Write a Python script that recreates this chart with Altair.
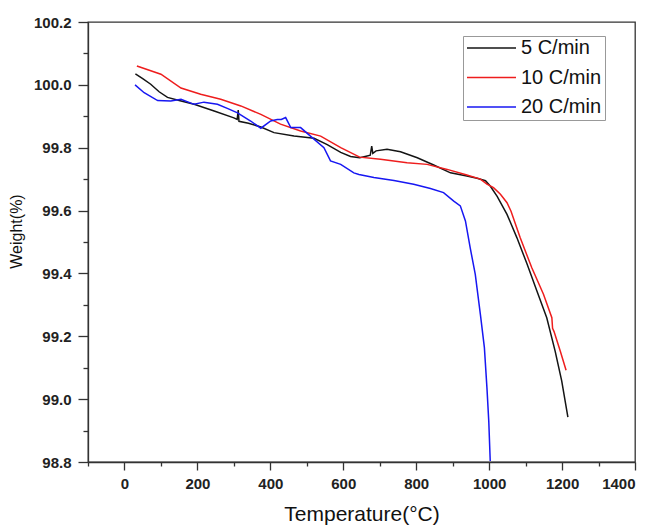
import altair as alt
import pandas as pd

series_names = ["5 C/min", "10 C/min", "20 C/min"]
series_colors = ["#141414", "#ee1d1d", "#1717f2"]

# 5 C/min
t_5 = [30, 50, 72, 95, 118, 150, 191, 246, 300, 309, 312, 314, 340, 374, 410, 465, 520, 556,
       593, 620, 645, 660, 674, 678, 681, 690, 720, 757, 803, 848, 894, 939, 967, 990, 1003,
       1022, 1049, 1076, 1104, 1131, 1158, 1181, 1199, 1216]
w_5 = [100.035, 100.02, 100.002, 99.978, 99.96, 99.95, 99.938, 99.917, 99.895, 99.89, 99.92,
       99.884, 99.878, 99.866, 99.848, 99.837, 99.83, 99.81, 99.785, 99.772, 99.768, 99.772,
       99.776, 99.805, 99.782, 99.79, 99.795, 99.787, 99.768, 99.745, 99.72, 99.71, 99.703,
       99.695, 99.678, 99.645, 99.588, 99.514, 99.43, 99.344, 99.259, 99.153, 99.058, 98.943]

# 10 C/min
t_10 = [34, 100, 155, 209, 264, 319, 374, 428, 483, 538, 593, 645, 702, 775, 830, 885, 939,
        976, 994, 1012, 1031, 1049, 1060, 1085, 1117, 1149, 1172, 1174, 1178, 1195, 1211]
w_10 = [100.06, 100.034, 99.99, 99.97, 99.954, 99.933, 99.906, 99.875, 99.853, 99.837, 99.80,
        99.77, 99.763, 99.752, 99.747, 99.731, 99.713, 99.70, 99.684, 99.673, 99.652, 99.625,
        99.598, 99.514, 99.418, 99.334, 99.259, 99.225, 99.215, 99.153, 99.092]

# 20 C/min
t_20 = [29, 54, 91, 127, 155, 191, 218, 255, 282, 310, 346, 374, 401, 419, 430, 442, 456, 483,
        510, 547, 565, 593, 629, 643, 684, 739, 793, 839, 875, 903, 921, 935, 948, 962, 976,
        987, 994, 999, 1003]
w_20 = [100.0, 99.975, 99.95, 99.949, 99.954, 99.938, 99.945, 99.938, 99.925, 99.911, 99.885,
        99.862, 99.885, 99.89, 99.89, 99.896, 99.864, 99.864, 99.837, 99.80, 99.758, 99.747,
        99.72, 99.715, 99.705, 99.696, 99.684, 99.67, 99.657, 99.63, 99.615, 99.567, 99.482,
        99.397, 99.27, 99.164, 99.036, 98.93, 98.803]

x_ticks = [-100, 0, 100, 200, 300, 400, 500, 600, 700, 800, 900, 1000, 1100, 1200, 1300, 1400]
y_ticks = [98.8, 98.9, 99.0, 99.1, 99.2, 99.3, 99.4, 99.5, 99.6, 99.7, 99.8, 99.9, 100.0, 100.1, 100.2]

rows = []
for name, ts, ws in zip(series_names, [t_5, t_10, t_20], [w_5, w_10, w_20]):
    for i, (t, w) in enumerate(zip(ts, ws)):
        rows.append({"series": name, "temp": t, "weight": w, "order": i})
df = pd.DataFrame(rows)

FONT = "Liberation Sans"
AXIS_COLOR = "#333333"

x_axis = alt.Axis(
    title="Temperature(°C)",
    values=x_ticks,
    labelExpr="datum.value % 200 === 0 ? format(datum.value, 'd') : ''",
    tickSize={"condition": {"test": "datum.value % 200 === 0", "value": 8}, "value": 4},
    labelPadding=6,
    titlePadding=12,
    titleFontSize=21,
    grid=False,
)
y_axis = alt.Axis(
    title="Weight(%)",
    values=y_ticks,
    labelExpr="round(datum.value * 10) % 2 === 0 ? format(datum.value, '.1f') : ''",
    tickSize={"condition": {"test": "round(datum.value * 10) % 2 === 0", "value": 10}, "value": 5},
    labelPadding=7,
    titlePadding=9,
    titleFontSize=16,
    titleY=209,
    grid=False,
)

chart = (
    alt.Chart(df)
    .mark_line(strokeWidth=1.5, clip=True)
    .encode(
        x=alt.X("temp:Q", scale=alt.Scale(domain=[-100, 1400], nice=False, zero=False), axis=x_axis),
        y=alt.Y("weight:Q", scale=alt.Scale(domain=[98.8, 100.2], nice=False, zero=False), axis=y_axis),
        color=alt.Color(
            "series:N",
            title=None,
            scale=alt.Scale(domain=series_names, range=series_colors),
            legend=alt.Legend(
                orient="none",
                legendX=375,
                legendY=14,
                symbolType="stroke",
                symbolSize=2401,
                symbolStrokeWidth=1.5,
                clipHeight=18,
                labelFont=FONT,
                labelFontSize=20,
                labelColor="#111111",
                labelOffset=4,
                rowPadding=9.5,
                padding=3,
                strokeColor="#999999",
                fillColor="white",
            ),
        ),
        order="order:Q",
    )
    .properties(
        width=547,
        height=440,
        padding={"left": 88, "top": 22, "right": 20, "bottom": 67},
        autosize=alt.AutoSizeParams(type="none"),
        background="white",
    )
    .configure_view(stroke=AXIS_COLOR, strokeWidth=1.3)
    .configure_axis(
        domainColor=AXIS_COLOR,
        domainWidth=1.3,
        tickColor=AXIS_COLOR,
        tickWidth=1.3,
        labelFont=FONT,
        labelFontWeight="bold",
        labelFontSize=15,
        labelColor="#222222",
        titleFont=FONT,
        titleFontWeight="normal",
        titleColor="#111111",
    )
)

chart.save("out.html", embed_options={"renderer": "svg", "actions": False})
